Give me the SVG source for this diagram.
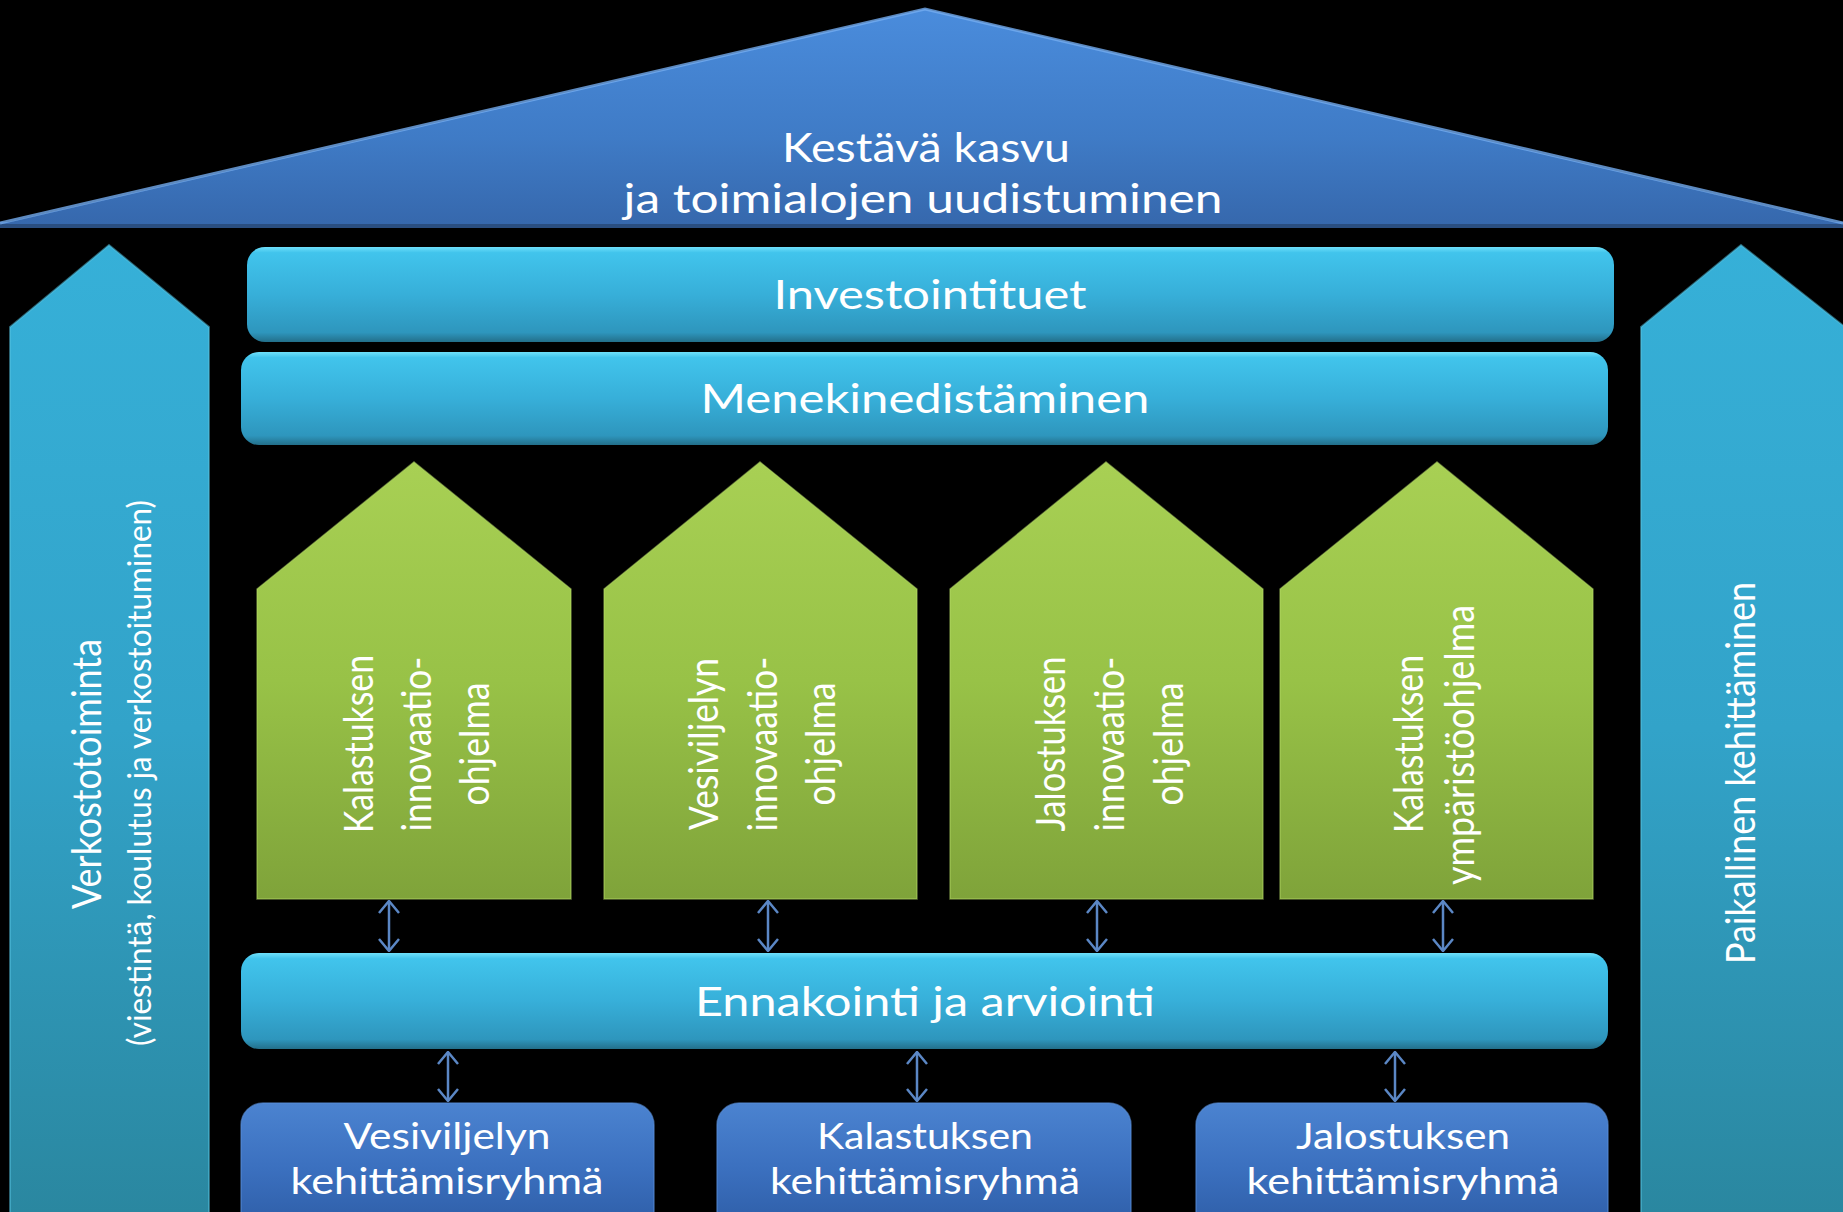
<svg xmlns="http://www.w3.org/2000/svg" width="1843" height="1212" viewBox="0 0 1843 1212">
<defs>
<linearGradient id="gRoof" x1="0" y1="0" x2="0" y2="1">
<stop offset="0" stop-color="#4a8cdc"/>
<stop offset="0.6" stop-color="#3f7bc6"/>
<stop offset="1" stop-color="#3668ad"/>
</linearGradient>
<linearGradient id="gPillar" x1="0" y1="0" x2="0" y2="1">
<stop offset="0" stop-color="#36b0d8"/>
<stop offset="0.5" stop-color="#32a3c9"/>
<stop offset="1" stop-color="#2a87a0"/>
</linearGradient>
<linearGradient id="gBar" x1="0" y1="0" x2="0" y2="1">
<stop offset="0" stop-color="#6fe0fa"/>
<stop offset="0.06" stop-color="#41c4ec"/>
<stop offset="0.5" stop-color="#37afd9"/>
<stop offset="0.9" stop-color="#2e96bd"/>
<stop offset="1" stop-color="#236f8a"/>
</linearGradient>
<linearGradient id="gHouse" x1="0" y1="0" x2="0" y2="1">
<stop offset="0" stop-color="#a8d054"/>
<stop offset="0.5" stop-color="#98c247"/>
<stop offset="1" stop-color="#7fa33a"/>
</linearGradient>
<linearGradient id="gBox" x1="0" y1="0" x2="0" y2="1">
<stop offset="0" stop-color="#4b83d0"/>
<stop offset="0.5" stop-color="#3b70bf"/>
<stop offset="1" stop-color="#2d5ca5"/>
</linearGradient>
<marker id="arr" viewBox="0 0 14 22" refX="13" refY="11" markerWidth="14" markerHeight="22" markerUnits="userSpaceOnUse" orient="auto-start-reverse">
<path d="M1,1 L13,11 L1,21" fill="none" stroke="#5b87c5" stroke-width="2.5"/>
</marker>
</defs>
<style>
text { font-family: "Lato", "Open Sans", "Liberation Sans", sans-serif; font-weight: 400; fill: #ffffff; }
.t40 { font-size: 40px; text-anchor: middle; }
.t36 { font-size: 36px; text-anchor: middle; }
.t32 { font-size: 32px; text-anchor: middle; }
.bar { fill: url(#gBar); }
.house { fill: url(#gHouse); stroke: #b8de6a; stroke-width: 1.5; stroke-opacity: 0.5; }
.pillar { fill: url(#gPillar); stroke: #55c3e2; stroke-width: 2; stroke-opacity: 0.5; }
.box { fill: url(#gBox); stroke: #5a8fd8; stroke-width: 1.5; stroke-opacity: 0.6; }
.conn { stroke: #5b87c5; stroke-width: 2.5; fill: none; marker-start: url(#arr); marker-end: url(#arr); }
</style>
<rect x="0" y="0" width="1843" height="1212" fill="#000000"/>

<g id="roof">
<rect x="0" y="222" width="1843" height="6" fill="#2a4e80"/>
<polygon points="0,224 925,9 1843,224" fill="url(#gRoof)"/>
<polyline points="0,223 925,9 1843,223" fill="none" stroke="#74acf0" stroke-width="3" stroke-opacity="0.8"/>
<text class="t40" x="926" y="162" font-size="42" textLength="288" lengthAdjust="spacingAndGlyphs">Kestävä kasvu</text>
<text class="t40" x="923" y="213" font-size="42" textLength="599" lengthAdjust="spacingAndGlyphs">ja toimialojen uudistuminen</text>
</g>

<g id="pillar-left">
<polygon class="pillar" points="10,327 109,245 209,327 209,1213 10,1213"/>
<text class="t40" font-size="42" transform="translate(101,774) rotate(-90)" textLength="270" lengthAdjust="spacingAndGlyphs">Verkostotoiminta</text>
<text class="t32" transform="translate(151,773) rotate(-90)" textLength="546" lengthAdjust="spacingAndGlyphs">(viestintä, koulutus ja verkostoituminen)</text>
</g>

<g id="pillar-right">
<polygon class="pillar" points="1641,327 1741,245 1845,327 1845,1213 1641,1213"/>
<text class="t40" transform="translate(1755,773) rotate(-90)" textLength="382" lengthAdjust="spacingAndGlyphs">Paikallinen kehittäminen</text>
</g>

<g id="investointituet">
<rect class="bar" x="247" y="247" width="1367" height="95" rx="18"/>
<text class="t40" x="930" y="309" textLength="313" lengthAdjust="spacingAndGlyphs">Investointituet</text>
</g>

<g id="menekinedistaminen">
<rect class="bar" x="241" y="352" width="1367" height="93" rx="18"/>
<text class="t40" x="925" y="413" textLength="449" lengthAdjust="spacingAndGlyphs">Menekinedistäminen</text>
</g>

<g id="house1">
<polygon class="house" points="257,589 414,462 571,589 571,899 257,899"/>
<text class="t40" transform="translate(373,744) rotate(-90)" textLength="178" lengthAdjust="spacingAndGlyphs">Kalastuksen</text>
<text class="t40" transform="translate(431,744) rotate(-90)" textLength="175" lengthAdjust="spacingAndGlyphs">innovaatio-</text>
<text class="t40" transform="translate(489,744) rotate(-90)" textLength="123" lengthAdjust="spacingAndGlyphs">ohjelma</text>
</g>

<g id="house2">
<polygon class="house" points="604,589 760,462 917,589 917,899 604,899"/>
<text class="t40" transform="translate(718,744) rotate(-90)" textLength="172" lengthAdjust="spacingAndGlyphs">Vesiviljelyn</text>
<text class="t40" transform="translate(777,744) rotate(-90)" textLength="175" lengthAdjust="spacingAndGlyphs">innovaatio-</text>
<text class="t40" transform="translate(835,744) rotate(-90)" textLength="123" lengthAdjust="spacingAndGlyphs">ohjelma</text>
</g>

<g id="house3">
<polygon class="house" points="950,589 1106,462 1263,589 1263,899 950,899"/>
<text class="t40" transform="translate(1065,744) rotate(-90)" textLength="175" lengthAdjust="spacingAndGlyphs">Jalostuksen</text>
<text class="t40" transform="translate(1124,744) rotate(-90)" textLength="175" lengthAdjust="spacingAndGlyphs">innovaatio-</text>
<text class="t40" transform="translate(1183,744) rotate(-90)" textLength="123" lengthAdjust="spacingAndGlyphs">ohjelma</text>
</g>

<g id="house4">
<polygon class="house" points="1280,589 1437,462 1593,589 1593,899 1280,899"/>
<text class="t40" transform="translate(1423,744) rotate(-90)" textLength="178" lengthAdjust="spacingAndGlyphs">Kalastuksen</text>
<text class="t40" transform="translate(1474,745) rotate(-90)" textLength="280" lengthAdjust="spacingAndGlyphs">ympäristöohjelma</text>
</g>

<g id="ennakointi">
<rect class="bar" x="241" y="953" width="1367" height="96" rx="18"/>
<text class="t40" x="925" y="1016" textLength="460" lengthAdjust="spacingAndGlyphs">Ennakointi ja arviointi</text>
</g>

<g id="ryhma-vesiviljely">
<rect class="box" x="241" y="1103" width="413" height="130" rx="22"/>
<text class="t36" x="447" y="1149" textLength="207" lengthAdjust="spacingAndGlyphs">Vesiviljelyn</text>
<text class="t36" x="447" y="1194" textLength="313" lengthAdjust="spacingAndGlyphs">kehittämisryhmä</text>
</g>

<g id="ryhma-kalastus">
<rect class="box" x="717" y="1103" width="414" height="130" rx="22"/>
<text class="t36" x="925" y="1149" textLength="216" lengthAdjust="spacingAndGlyphs">Kalastuksen</text>
<text class="t36" x="925" y="1194" textLength="310" lengthAdjust="spacingAndGlyphs">kehittämisryhmä</text>
</g>

<g id="ryhma-jalostus">
<rect class="box" x="1196" y="1103" width="412" height="130" rx="22"/>
<text class="t36" x="1403" y="1149" textLength="214" lengthAdjust="spacingAndGlyphs">Jalostuksen</text>
<text class="t36" x="1403" y="1194" textLength="313" lengthAdjust="spacingAndGlyphs">kehittämisryhmä</text>
</g>

<g id="connectors">
<line class="conn" x1="389" y1="901" x2="389" y2="951"/>
<line class="conn" x1="768" y1="901" x2="768" y2="951"/>
<line class="conn" x1="1097" y1="901" x2="1097" y2="951"/>
<line class="conn" x1="1443" y1="901" x2="1443" y2="951"/>
<line class="conn" x1="448" y1="1052" x2="448" y2="1101"/>
<line class="conn" x1="917" y1="1052" x2="917" y2="1101"/>
<line class="conn" x1="1395" y1="1052" x2="1395" y2="1101"/>
</g>
</svg>
